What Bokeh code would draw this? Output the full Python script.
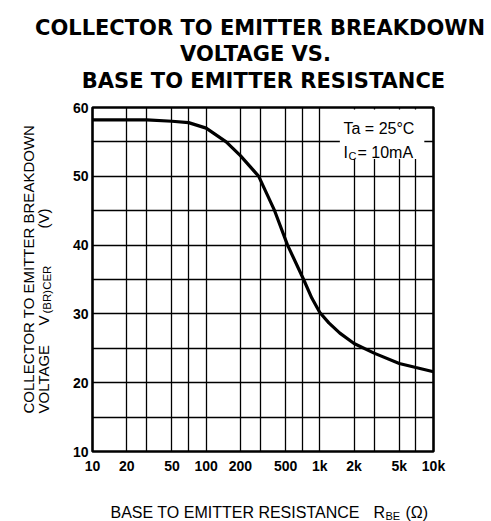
import math
from bokeh.plotting import figure
from bokeh.layouts import column, row
from bokeh.models import FixedTicker, Label, CustomJSTickFormatter
from bokeh.embed import file_html
from bokeh.resources import INLINE

# ---- data ----
title_lines = ["COLLECTOR TO EMITTER BREAKDOWN", "VOLTAGE VS.", "BASE TO EMITTER RESISTANCE"]
resistance = [10, 20, 30, 50, 70, 100, 150, 200, 290, 400, 520, 720, 850, 1000, 1200, 1500, 2000, 3000, 5000, 7000, 10000]
voltage = [58.2, 58.2, 58.2, 58.0, 57.8, 57.0, 55.0, 53.0, 50.0, 45.0, 40.0, 35.0, 32.3, 30.2, 28.7, 27.2, 25.7, 24.3, 22.8, 22.2, 21.6]
x_ticks = [10, 20, 50, 100, 200, 500, 1000, 2000, 5000, 10000]
x_tick_labels = ["10", "20", "50", "100", "200", "500", "1k", "2k", "5k", "10k"]
y_ticks = [10, 20, 30, 40, 50, 60]
x_grid = [10, 20, 30, 50, 70, 100, 200, 300, 500, 700, 1000, 2000, 3000, 5000, 7000, 10000]
y_grid = [10, 15, 20, 25, 30, 35, 40, 45, 50, 55, 60]

# ---- layout in page pixels (the page renders from 0,0) ----
ORG = 0
TOTAL_W, TOTAL_H = 491, 521
FL, FR, FT, FB = 92, 433, 107, 451          # plot frame
MID_TOP, MID_BOT = 97, 478                  # middle row page y
LEFT_W = 68                                 # y-label strip width


def text_fig(w, h):
    f = figure(width=w, height=h, x_range=(0, 1), y_range=(0, 1),
               output_backend="svg", toolbar_location=None, title_location=None,
               x_axis_location=None, y_axis_location=None,
               min_border=0, min_border_left=0, min_border_right=0,
               min_border_top=0, min_border_bottom=0)
    f.outline_line_color = None
    f.xgrid.visible = False
    f.ygrid.visible = False
    f.background_fill_color = "white"
    f.border_fill_color = "white"
    return f


def put(fig, org_x, org_bottom, text, px, py, size, font="Liberation Sans", style="normal",
        align="left", angle=0.0):
    fig.add_layout(Label(x=px - org_x, y=org_bottom - py, x_units="screen", y_units="screen",
                         text=text, text_font=font, text_font_size=f"{size}px",
                         text_font_style=style, text_align=align, text_baseline="alphabetic",
                         angle=angle, text_color="black"))


# ---- title strip ----
top = text_fig(TOTAL_W, MID_TOP - ORG)
put(top, ORG, MID_TOP, title_lines[0], 259.5, 27.3, 21, font="DejaVu Sans", style="bold", align="center")
put(top, ORG, MID_TOP, title_lines[1], 255, 53.3, 21, font="DejaVu Sans", style="bold", align="center")
put(top, ORG, MID_TOP, title_lines[2], 263, 80, 21, font="DejaVu Sans", style="bold", align="center")

# ---- y-label strip (its frame is aligned with the main plot frame by the row) ----
left = text_fig(LEFT_W, MID_BOT - MID_TOP)
A = math.pi / 2
put(left, ORG, FB, "COLLECTOR TO EMITTER BREAKDOWN", 28, 413, 15, angle=A)
put(left, ORG, FB, "VOLTAGE", 43, 413, 15, angle=A)
put(left, ORG, FB, "V", 43, 325, 15, angle=A)
put(left, ORG, FB, "(BR)CER", 46.5, 313, 11.5, angle=A)
put(left, ORG, FB, "(V)", 43, 218, 15, angle=A, align="center")

# ---- main plot ----
p = figure(width=TOTAL_W - LEFT_W, height=MID_BOT - MID_TOP, x_axis_type="log",
           x_range=(10, 10000), y_range=(10, 60),
           output_backend="svg", toolbar_location=None, title_location=None,
           min_border_left=FL - LEFT_W, min_border_right=TOTAL_W - FR,
           min_border_top=FT - MID_TOP, min_border_bottom=MID_BOT - FB)
p.background_fill_color = "white"
p.border_fill_color = "white"
p.outline_line_color = "black"
p.outline_line_width = 2.6
p.outline_line_alpha = 1.0

for ax in (p.xaxis, p.yaxis):
    ax.axis_line_color = None
    ax.major_tick_line_color = None
    ax.minor_tick_line_color = None
    ax.major_tick_out = 0
    ax.major_tick_in = 0
    ax.minor_tick_out = 0
    ax.minor_tick_in = 0
    ax.major_label_text_font = "Liberation Sans"
    ax.major_label_text_font_size = "14px"
    ax.major_label_text_font_style = "bold"
    ax.major_label_text_color = "black"

p.xaxis.ticker = FixedTicker(ticks=x_ticks)
p.xaxis.formatter = CustomJSTickFormatter(
    args=dict(tv=x_ticks, tl=x_tick_labels),
    code="const i = tv.indexOf(tick); return i >= 0 ? tl[i] : '';")
p.xaxis.major_label_standoff = 6
p.yaxis.ticker = FixedTicker(ticks=y_ticks)
p.yaxis.major_label_standoff = 4

p.xgrid.ticker = FixedTicker(ticks=x_grid)
p.ygrid.ticker = FixedTicker(ticks=y_grid)
for g in (p.xgrid, p.ygrid):
    g.grid_line_color = "black"
    g.grid_line_width = 1.3
    g.grid_line_alpha = 1.0

# white box behind the condition note
p.quad(left=1500, right=8300, bottom=52.5, top=59.7, fill_color="white", line_color=None)

p.line(resistance, voltage, line_width=3.2, line_color="black")

# condition note (frame-relative screen units)
put(p, FL, FB, "Ta = 25°C", 343, 128.3, 16)
put(p, FL, FB, "I", 343, 151.7, 16)
put(p, FL, FB, "C", 348, 155.5, 11)
put(p, FL, FB, "= 10mA", 357, 151.7, 16)

# ---- x-label strip ----
bot = text_fig(TOTAL_W, TOTAL_H - MID_BOT)
put(bot, ORG, TOTAL_H, "BASE TO EMITTER RESISTANCE", 110, 512, 16)
put(bot, ORG, TOTAL_H, "R", 373, 512, 16)
put(bot, ORG, TOTAL_H, "BE", 385, 515, 11)
put(bot, ORG, TOTAL_H, "(Ω)", 405, 512, 16)

layout = column(top, row(left, p, spacing=0), bot, spacing=0)

open("out.html", "w").write(file_html(layout, INLINE))
